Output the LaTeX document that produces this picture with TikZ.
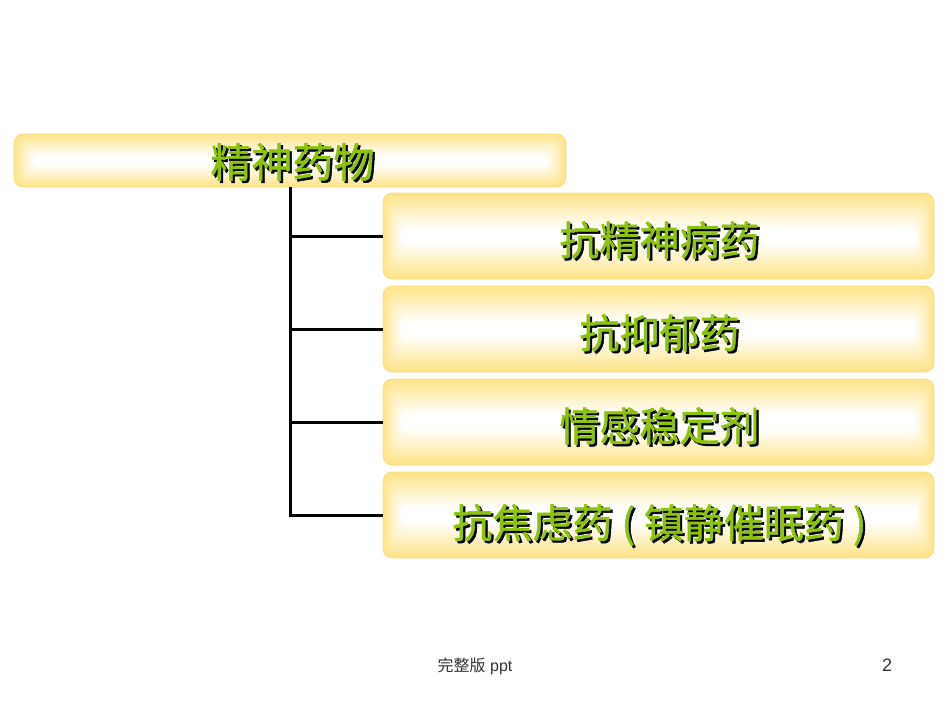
\documentclass[tikz,border=0pt]{standalone}
\usepackage{fontspec}
\setmainfont{Liberation Sans}
\newfontfamily\cjk{Noto Sans CJK SC}
\newfontfamily\cjkfb[FakeBold=1.2]{Noto Sans CJK SC}
\definecolor{boxy}{HTML}{FDE48A}
\definecolor{boxedge}{HTML}{F7DC78}
\definecolor{txtgreen}{HTML}{8CC40C}
\tikzset{
  ybox/.style n args={2}{rectangle, rounded corners=9pt, draw=boxedge, line width=0.6pt, inner sep=0pt,
    path picture={
      \foreach \i in {0,...,12}{
        \pgfmathsetmacro\p{100-\i*8.3}
        \fill[boxy!\p!white, rounded corners=9pt]
          ([shift={(\i*#1,-\i*#2)}]path picture bounding box.north west) rectangle
          ([shift={(-\i*#1,\i*#2)}]path picture bounding box.south east);
      }
    }},
  topbox/.style={ybox={1.5pt}{1.75pt}, minimum width=552pt, minimum height=53pt},
  subbox/.style={ybox={1.5pt}{2.9pt}, minimum width=551pt, minimum height=86pt},
  lbl/.style={font=\cjkfb\fontsize{40}{44}\selectfont, text=txtgreen, inner sep=0pt},
  conn/.style={draw=black, line width=3pt},
  foot/.style={font=\fontsize{16}{18}\selectfont, text=black!80, inner sep=0pt}
}
\newcommand\shtext[1]{\makebox[0pt][l]{\hspace{2.2pt}\raisebox{-2.2pt}{\color{black}#1}}#1}
\begin{document}
\begin{tikzpicture}[x=1pt,y=-1pt]
\useasboundingbox[fill=white] (0,0) rectangle (950,713);
% boxes
\node[topbox] (top) at (290,160.5) {};
\node[subbox] (a) at (658.5,236) {};
\node[subbox] (b) at (658.5,329) {};
\node[subbox] (c) at (658.5,422) {};
\node[subbox] (d) at (658.5,515) {};
% connectors
\draw[conn] (top.south) |- (d.west);
\draw[conn] (a.west) -- (a.west -| top.south);
\draw[conn] (b.west) -- (b.west -| top.south);
\draw[conn] (c.west) -- (c.west -| top.south);
% labels
\node[lbl, font=\cjkfb\fontsize{41}{44}\selectfont] (topT) at (292.5,163) {\shtext{精神药物}};
\node[lbl] (aT) at (659.5,241) {\shtext{抗精神病药}};
\node[lbl] (bT) at (659.5,334) {\shtext{抗抑郁药}};
\node[lbl] (cT) at (659.5,427) {\shtext{情感稳定剂}};
\node[lbl] (dT) at (659.5,526) {\shtext{抗焦虑药 ( 镇静催眠药 )}};
% footer
\node[foot] (ft) at (475,666) {{\cjk 完整版} ppt};
\node[foot, font=\fontsize{18}{20}\selectfont] (pg) at (887,665) {2};
\end{tikzpicture}
\end{document}
